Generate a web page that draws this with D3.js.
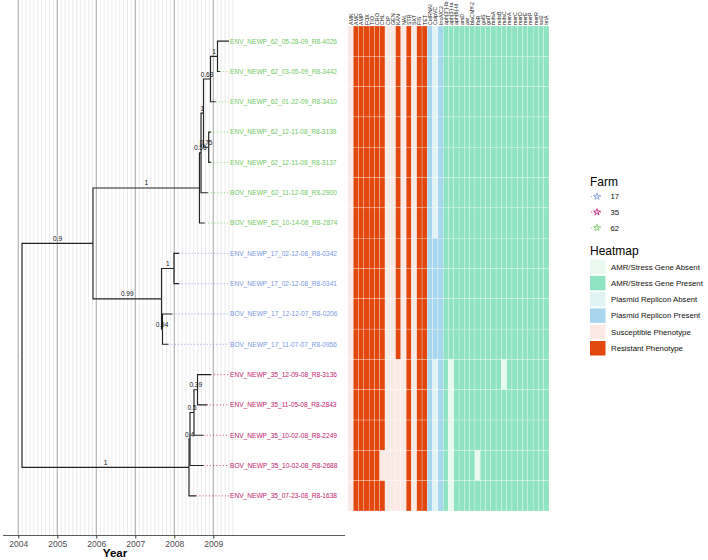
<!DOCTYPE html>
<html><head><meta charset="utf-8">
<script src="https://cdn.jsdelivr.net/npm/d3@7"></script>
<style>body{margin:0;background:#fff}svg{display:block}text{font-family:"Liberation Sans",Arial,sans-serif}</style>
</head><body><svg id="c" width="708" height="560"></svg>
<script>
// ---------------- DATA ----------------
const tipLabels = ["ENV_NEWP_62_05-28-09_R8-4026","ENV_NEWP_62_03-05-09_R8-3442","ENV_NEWP_62_01-22-09_R8-3410","ENV_NEWP_62_12-11-08_R8-3139","ENV_NEWP_62_12-11-08_R8-3137","BOV_NEWP_62_11-12-08_R8-2900","BOV_NEWP_62_10-14-08_R8-2874","ENV_NEWP_17_02-12-08_R8-0342","ENV_NEWP_17_02-12-08_R8-0341","BOV_NEWP_17_12-12-07_R8-0206","BOV_NEWP_17_11-07-07_R8-0956","ENV_NEWP_35_12-09-08_R8-3136","ENV_NEWP_35_11-05-08_R8-2843","ENV_NEWP_35_10-02-08_R8-2249","BOV_NEWP_35_10-02-08_R8-2688","ENV_NEWP_35_07-23-08_R8-1638"];
const tipDates = [2009.40,2009.17,2009.06,2008.94,2008.94,2008.86,2008.78,2008.12,2008.12,2007.95,2007.85,2008.94,2008.84,2008.75,2008.75,2008.56];
const tipFarms = ["62","62","62","62","62","62","62","17","17","17","17","35","35","35","35","35"];
const tipParents = ["n1","n1","n2","n3","n3","n5","n6","n7","n7","n8","n8","n10","n10","n11","n12","n13"];

const nodeIds     = ["root","A","n6","n5","n4","n2","n1","n3","B","n7","n8","n13","n12","n11","n10"];
const nodeParents = [null,"root","A","n6","n5","n4","n2","n4","A","B","B","root","n13","n12","n11"];
const nodeDates   = [2004.095,2005.915,2008.646,2008.685,2008.749,2008.928,2009.108,2008.882,2007.672,2007.992,2007.697,2008.377,2008.403,2008.505,2008.595];
const nodeSupport = ["","0.9","1","0.56","1","0.63","1","0.75","0.99","1","0.94","1","0.4","0.5","0.39"];

const farms = ["17","35","62"];
const farmColors = ["#7b97e2","#c2186d","#72c963"];

const yearTicks = [2004,2005,2006,2007,2008,2009];

const phenoCols = ["AMK","AMC","AMP","FOX","TIO","CRO","CHL","CIP","GEN","KAN","NAL","STR","SXT","FIS","TET"];
const plasmidCols = ["ColRNAI","ColpVC","IncA/C2"];
const geneCols = ["aph(3'')-Ib","aph(3')-Ia","aph(6)-Id","arsD","asr","blaCMY-2","floR","golS","golT","mdsA","mdsB","mdsC","merA","merC","merD","merE","merP","merR","sul2","tetA"];

// 1 = resistant / present, 0 = susceptible / absent  (one string per tip, in tip order)
const phenoRows = [
 "011111100101011","011111100101011","011111100101011","011111100101011","011111100101011","011111100101011","011111100101011",
 "011111100101011","011111100101011","011111100101011","011111100101011",
 "011111100001011","011111100001011","011111100001011","011111000001011","011111100001011"];
const plasmidRows = ["101","101","101","101","101","101","101","111","111","111","111","101","101","101","101","101"];
const geneRows = [
 "11111111111111111111","11111111111111111111","11111111111111111111","11111111111111111111","11111111111111111111","11111111111111111111","11111111111111111111",
 "11111111111111111111","11111111111111111111","11111111111111111111","11111111111111111111",
 "10111111111011111111","10111111111111111111","10111111111111111111","10111101111111111111","10111111111111111111"];

const legendLabels = ["AMR/Stress Gene Absent","AMR/Stress Gene Present","Plasmid Replicon Absent","Plasmid Replicon Present","Susceptible Phenotype","Resistant Phenotype"];
const legendColors = ["#e9f9ef","#8fe3c2","#e2f3f3","#a8d6ee","#fbe9e6","#e2470d"];

// ---------------- DRAW ----------------
const svg = d3.select("#c");
const x = d3.scaleLinear().domain([2004,2009]).range([18.3,213.3]);
const y = d3.scaleBand().domain(tipLabels).range([26,511]).paddingInner(0);
const yc = t => y(t) + y.bandwidth()/2;
const farmColor = d3.scaleOrdinal().domain(farms).range(farmColors);

// grid
const gGrid = svg.append("g");
const minor = d3.range(0,56).map(i => 2004 + i*0.1);
gGrid.selectAll("line.mn").data(minor).join("line")
  .attr("x1",d=>x(d)).attr("x2",d=>x(d)).attr("y1",0).attr("y2",535)
  .attr("stroke","#dedede").attr("stroke-width",0.6);
gGrid.selectAll("line.mj").data(yearTicks).join("line")
  .attr("x1",d=>x(d)).attr("x2",d=>x(d)).attr("y1",0).attr("y2",535)
  .attr("stroke","#b0b0b0").attr("stroke-width",1.1);

// build tree
const table = [];
nodeIds.forEach((id,i)=>table.push({id, parent:nodeParents[i], date:nodeDates[i], support:nodeSupport[i], tip:false}));
tipLabels.forEach((id,i)=>table.push({id, parent:tipParents[i], date:tipDates[i], farm:tipFarms[i], tip:true, order:i}));
const root = d3.stratify().id(d=>d.id).parentId(d=>d.parent)(table);
root.eachAfter(n=>{
  n.px = x(n.data.date);
  if(n.data.tip){ n.py = yc(n.data.id); }
  else { n.py = d3.mean(n.children, c=>c.py); }
});
const gTree = svg.append("g");
const links = root.links();
gTree.selectAll("path.br").data(links).join("path")
  .attr("d",l=>`M${l.source.px},${l.source.py}V${l.target.py}H${l.target.px}`)
  .attr("fill","none").attr("stroke","#222").attr("stroke-width",1.15);

// support labels
gTree.selectAll("text.sup").data(root.descendants().filter(n=>!n.data.tip && n.parent && n.data.support))
  .join("text").attr("x",n=>(n.px+n.parent.px)/2).attr("y",n=>n.py-2.5)
  .attr("text-anchor","middle").attr("font-size",6.5).attr("fill","#111").text(n=>n.data.support);

// tips: dotted + labels
const labelX = 230;
const tips = root.leaves();
gTree.selectAll("line.dot").data(tips).join("line")
  .attr("x1",n=>n.px).attr("x2",labelX-1).attr("y1",n=>n.py).attr("y2",n=>n.py)
  .attr("stroke",n=>farmColor(n.data.farm)).attr("stroke-width",0.8).attr("stroke-dasharray","1,2.2");
gTree.selectAll("text.tl").data(tips).join("text")
  .attr("x",labelX).attr("y",n=>n.py+2.4).attr("font-size",6.6)
  .attr("fill",n=>farmColor(n.data.farm)).text(n=>n.data.id);

// axis
const gAx = svg.append("g").attr("transform","translate(0,535.5)");
gAx.append("line").attr("x1",3).attr("x2",345).attr("stroke","#333").attr("stroke-width",0.8);
const ax = d3.axisBottom(x).tickValues(yearTicks).tickFormat(d3.format("d")).tickSize(3).tickPadding(2);
gAx.call(ax);
gAx.select(".domain").remove();
gAx.selectAll(".tick line").attr("stroke","#333");
gAx.selectAll(".tick text").attr("font-size",8.5).attr("fill","#4d4d4d").attr("font-family","Liberation Sans, Arial, sans-serif");
svg.append("text").attr("x",115).attr("y",557).attr("text-anchor","middle").attr("font-size",11.5).attr("font-weight","bold").text("Year");

// heatmap
const allCols = phenoCols.concat(plasmidCols, geneCols);
const hx = d3.scaleBand().domain(allCols).range([348,549]);
const cells = [];
tipLabels.forEach((t,r)=>{
  phenoCols.forEach((c,j)=>cells.push({t,c,col: phenoRows[r][j]==="1"?legendColors[5]:legendColors[4]}));
  plasmidCols.forEach((c,j)=>cells.push({t,c,col: plasmidRows[r][j]==="1"?legendColors[3]:legendColors[2]}));
  geneCols.forEach((c,j)=>cells.push({t,c,col: geneRows[r][j]==="1"?legendColors[1]:legendColors[0]}));
});
svg.append("g").selectAll("rect").data(cells).join("rect")
  .attr("x",d=>hx(d.c)).attr("y",d=>y(d.t)).attr("width",hx.bandwidth()).attr("height",y.bandwidth())
  .attr("fill",d=>d.col).attr("stroke","#ffffff").attr("stroke-width",0.35).attr("stroke-opacity",0.7);
svg.append("g").selectAll("text").data(allCols).join("text")
  .attr("transform",c=>`translate(${hx(c)+hx.bandwidth()/2+2},25) rotate(-90)`)
  .attr("font-size",5.3).attr("fill","#111").text(c=>c);

// farm legend
const gF = svg.append("g");
gF.append("text").attr("x",590).attr("y",186).attr("font-size",12).text("Farm");
farms.forEach((f,i)=>{
  const cy = 196.5 + i*15.6;
  gF.append("line").attr("x1",591).attr("x2",603).attr("y1",cy).attr("y2",cy)
    .attr("stroke",farmColors[i]).attr("stroke-width",0.8).attr("stroke-dasharray","1,2");
  gF.append("path").attr("d",d3.symbol(d3.symbolStar,14)()).attr("transform",`translate(597,${cy})`)
    .attr("fill","none").attr("stroke",farmColors[i]).attr("stroke-width",0.8);
  gF.append("text").attr("x",610.5).attr("y",cy+2.8).attr("font-size",7.8).attr("fill","#111").text(f);
});

// heatmap legend
const gH = svg.append("g");
gH.append("text").attr("x",590).attr("y",255).attr("font-size",12).text("Heatmap");
legendLabels.forEach((l,i)=>{
  const ty = 259.5 + i*16.3;
  gH.append("rect").attr("x",590).attr("y",ty).attr("width",15.5).attr("height",14.5).attr("fill",legendColors[i]);
  gH.append("text").attr("x",611).attr("y",ty+10).attr("font-size",7.8).attr("fill","#111").text(l);
});
</script></body></html>
